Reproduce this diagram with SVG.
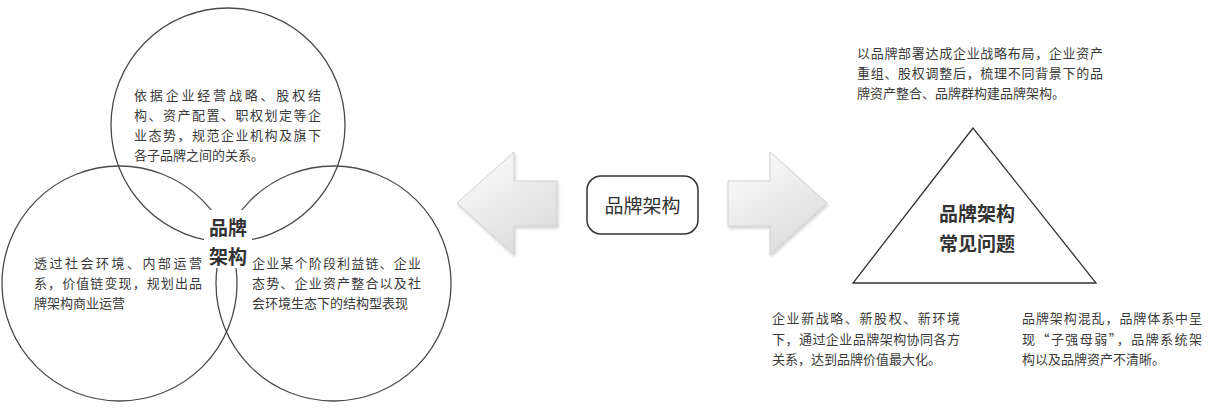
<svg xmlns="http://www.w3.org/2000/svg" width="1208" height="410" viewBox="0 0 1208 410">
<defs>
<style>
.t{font-family:"Noto Sans CJK SC","Noto Sans",sans-serif;font-size:13px;fill:#3a3a3a}
.b{font-family:"Noto Sans CJK SC","Noto Sans",sans-serif;font-size:19px;font-weight:bold;fill:#333;text-anchor:middle}
.c{fill:none;stroke:#4a4a4a;stroke-width:1.3}
.arrow{fill:url(#ag);stroke:#d0d0d0;stroke-width:1;filter:url(#sh)}
</style>
<linearGradient id="ag" x1="0" y1="0" x2="0.6" y2="1">
<stop offset="0" stop-color="#ffffff"/>
<stop offset="1" stop-color="#dcdcdc"/>
</linearGradient>
<filter id="sh" x="-20%" y="-20%" width="140%" height="140%">
<feDropShadow dx="1" dy="2" stdDeviation="1.5" flood-color="#000" flood-opacity="0.18"/>
</filter>
</defs>
<rect width="1208" height="410" fill="#fff"/>

<g id="venn">
<circle class="c" cx="228" cy="125" r="117"/>
<circle class="c" cx="119.5" cy="283.5" r="117.5"/>
<circle class="c" cx="333.5" cy="283.5" r="117.5"/>
<rect x="204" y="210" width="48" height="58" fill="#fff"/>
<text class="b" x="228" y="235">品牌</text>
<text class="b" x="228" y="264">架构</text>
</g>

<g id="circle-top-text">
<text class="t" x="134" y="100" textLength="187" lengthAdjust="spacing">依据企业经营战略、股权结</text>
<text class="t" x="134" y="120" textLength="187" lengthAdjust="spacing">构、资产配置、职权划定等企</text>
<text class="t" x="134" y="140" textLength="187" lengthAdjust="spacing">业态势，规范企业机构及旗下</text>
<text class="t" x="134" y="160">各子品牌之间的关系。</text>
</g>

<g id="circle-left-text">
<text class="t" x="34" y="268" textLength="168" lengthAdjust="spacing">透过社会环境、内部运营</text>
<text class="t" x="34" y="288" textLength="168" lengthAdjust="spacing">系，价值链变现，规划出品</text>
<text class="t" x="34" y="308">牌架构商业运营</text>
</g>

<g id="circle-right-text">
<text class="t" x="252" y="268" textLength="169" lengthAdjust="spacing">企业某个阶段利益链、企业</text>
<text class="t" x="252" y="288" textLength="169" lengthAdjust="spacing">态势、企业资产整合以及社</text>
<text class="t" x="252" y="308">会环境生态下的结构型表现</text>
</g>

<g id="connectors">
<polygon class="arrow" points="457,203 514,152 514,181 557,181 557,226 514,226 514,255"/>
<polygon class="arrow" points="827,203 770,152 770,181 728,181 728,226 770,226 770,255"/>
</g>

<g id="center-node">
<rect x="587" y="176" width="111" height="58" rx="14" ry="14" fill="#fff" stroke="#333" stroke-width="1.5"/>
<text x="642.5" y="213" style="font-family:'Noto Sans CJK SC','Noto Sans',sans-serif;font-size:19px;fill:#333;text-anchor:middle">品牌架构</text>
</g>

<g id="triangle">
<polygon points="973,128 853,283 1096,283" fill="#fff" stroke="#333" stroke-width="1.3"/>
<text class="b" x="977" y="221">品牌架构</text>
<text class="b" x="977" y="251">常见问题</text>
</g>

<g id="top-right-text">
<text class="t" x="857" y="58" textLength="246" lengthAdjust="spacing">以品牌部署达成企业战略布局，企业资产</text>
<text class="t" x="857" y="78" textLength="246" lengthAdjust="spacing">重组、股权调整后，梳理不同背景下的品</text>
<text class="t" x="857" y="98">牌资产整合、品牌群构建品牌架构。</text>
</g>

<g id="bottom-left-text">
<text class="t" x="772" y="323" textLength="188" lengthAdjust="spacing">企业新战略、新股权、新环境</text>
<text class="t" x="772" y="344" textLength="188" lengthAdjust="spacing">下，通过企业品牌架构协同各方</text>
<text class="t" x="772" y="364">关系，达到品牌价值最大化。</text>
</g>

<g id="bottom-right-text">
<text class="t" x="1022" y="323" textLength="180" lengthAdjust="spacing">品牌架构混乱，品牌体系中呈</text>
<text class="t" x="1022" y="344" textLength="180" lengthAdjust="spacing">现“子强母弱”，品牌系统架</text>
<text class="t" x="1022" y="364">构以及品牌资产不清晰。</text>
</g>
</svg>
